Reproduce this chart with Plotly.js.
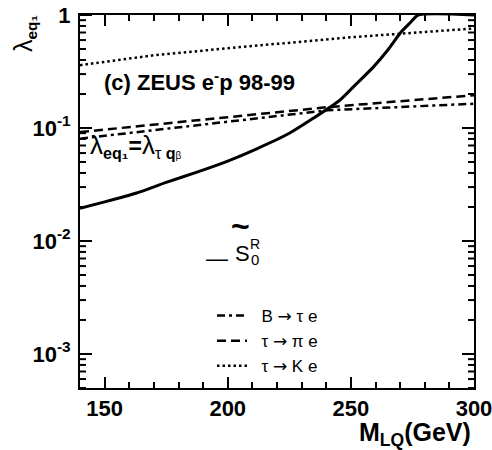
<!DOCTYPE html>
<html><head><meta charset="utf-8">
<script src="https://cdn.plot.ly/plotly-3.0.1.min.js"></script>
<style>html,body{margin:0;padding:0;background:#fff}</style>
</head><body><div id="chart" style="width:492px;height:450px"></div>
<script>
// S0~R limit (solid)
const massSolid = [140, 150, 163, 175, 187.5, 200, 212, 225, 235, 245.5, 252, 259, 265, 270, 274, 277.3, 300];
const lambdaSolid = [0.0195, 0.0222, 0.0266, 0.0330, 0.0407, 0.0510, 0.0658, 0.0898, 0.123, 0.176, 0.243, 0.344, 0.49, 0.69, 0.85, 1.0, 1.0];
// B -> tau e (dash-dot)
const massBte = [140, 193, 240.6, 300];
const lambdaBte = [0.0805, 0.110, 0.1435, 0.164];
// tau -> pi e (dashed)
const massTpe = [140, 193, 240.6, 300];
const lambdaTpe = [0.092, 0.121, 0.153, 0.195];
// tau -> K e (dotted)
const massTke = [140, 170, 205, 252, 300];
const lambdaTke = [0.36, 0.44, 0.52, 0.64, 0.76];

const xTickVals = [150, 200, 250, 300];
const xMinorVals = [160, 170, 180, 190, 210, 220, 230, 240, 260, 270, 280, 290];
const yTickVals = [1e-3, 1e-2, 1e-1, 1];
const yTickText = ['10<sup>-3</sup>', '10<sup>-2</sup>', '10<sup>-1</sup>', '1'];
const ARROW = '<span style="font-family:DejaVu Sans">\u2192</span>';
const NB = '\u00a0';
const legendNames = [NB + NB + 'B' + NB + ARROW + NB + '\u03c4' + NB + 'e',
                     NB + NB + '\u03c4' + NB + ARROW + NB + '\u03c0' + NB + 'e',
                     NB + NB + '\u03c4' + NB + ARROW + NB + 'K' + NB + 'e'];

const FONT = 'Liberation Sans, Arial, Helvetica, sans-serif';

const yMinor = [];
for (const dec of [1e-4, 1e-3, 1e-2, 1e-1]) {
  for (let k = 2; k <= 9; k++) { const v = k * dec; if (v >= 5e-4) yMinor.push(v); }
}
const xRange = [140, 300];
const yRange = [Math.log10(5e-4), 0];

const PW = 394, PH = 373;
const xPerPx = (xRange[1] - xRange[0]) / PW;
function px2x(px) { return (px - 80) / PW; }
function px2y(py) { return (388 - py) / PH; }

// y tick marks (inside, left and right) as a line trace on the same axes
const tickX = [], tickY = [];
function yTick(v, len) {
  tickX.push(xRange[0], xRange[0] + len * xPerPx, null, xRange[1], xRange[1] - len * xPerPx, null);
  tickY.push(v, v, null, v, v, null);
}
yTickVals.forEach(v => yTick(v, 12));
yMinor.forEach(v => yTick(v, 6));

const data = [
  {x: massSolid, y: lambdaSolid, mode: 'lines', line: {color: '#000', width: 3, shape: 'spline', smoothing: 0.6}, showlegend: false, hoverinfo: 'skip'},
  {x: massBte, y: lambdaBte, mode: 'lines', name: legendNames[0], line: {color: '#000', width: 2.5, dash: '8px,4px,3px,4px'}},
  {x: massTpe, y: lambdaTpe, mode: 'lines', name: legendNames[1], line: {color: '#000', width: 2.5, dash: '9px,5px'}},
  {x: massTke, y: lambdaTke, mode: 'lines', name: legendNames[2], line: {color: '#000', width: 2.5, dash: '2.5px,3px'}},
  {x: tickX, y: tickY, mode: 'lines', line: {color: '#000', width: 2}, connectgaps: false, showlegend: false, hoverinfo: 'skip'}
];

const layout = {
  width: 492, height: 450,
  margin: {l: 80, r: 18, t: 15, b: 62},
  paper_bgcolor: '#fff', plot_bgcolor: '#fff',
  font: {family: FONT, color: '#000'},
  showlegend: true,
  legend: {x: px2x(212), y: px2y(298), xanchor: 'left', yanchor: 'top', bgcolor: 'rgba(0,0,0,0)',
           font: {family: FONT, size: 17, color: '#000'}, itemwidth: 30, tracegroupgap: 0},
  xaxis: {
    range: xRange, tickvals: xTickVals, ticks: 'inside', ticklen: 11, tickwidth: 2, tickcolor: '#000',
    showgrid: false, zeroline: false,
    showline: true, linewidth: 2, linecolor: '#000', mirror: 'allticks', ticklabeloverflow: 'allow',
    tickfont: {family: FONT, size: 22, weight: 'bold', color: '#000'},
    minor: {ticks: 'inside', ticklen: 6, tickwidth: 2, tickcolor: '#000', tickvals: xMinorVals, showgrid: false}
  },
  yaxis: {
    type: 'log', range: yRange, tickvals: yTickVals, ticktext: yTickText, ticks: '',
    showgrid: false, zeroline: false,
    showline: true, linewidth: 2, linecolor: '#000', mirror: true, ticklabeloverflow: 'allow',
    tickfont: {family: FONT, size: 22, weight: 'bold', color: '#000'}, ticklabelstandoff: 3
  },
  annotations: [
    {xref: 'paper', yref: 'paper', x: px2x(102), y: px2y(81), xanchor: 'left', yanchor: 'middle', showarrow: false,
     text: '(c) ZEUS e<sup>-</sup>p 98-99', font: {family: FONT, size: 22, weight: 'bold'}},
    {xref: 'paper', yref: 'paper', x: px2x(88), y: px2y(146), xanchor: 'left', yanchor: 'middle', showarrow: false,
     text: '<span style="font-size:26px">\u03bb</span><sub><b>eq\u2081</b></sub><b>=</b><span style="font-size:26px">\u03bb</span><sub>\u03c4\u00a0<b>q</b><span style="font-size:10px">\u03b2</span></sub>',
     font: {family: FONT, size: 23}},
    {xref: 'paper', yref: 'paper', x: px2x(217), y: px2y(258), xanchor: 'center', yanchor: 'middle', showarrow: false,
     text: '\u2014', font: {family: FONT, size: 22}},
    {xref: 'paper', yref: 'paper', x: px2x(242), y: px2y(253), xanchor: 'center', yanchor: 'middle', showarrow: false,
     text: 'S', font: {family: FONT, size: 22}},
    {xref: 'paper', yref: 'paper', x: px2x(255), y: px2y(244), xanchor: 'center', yanchor: 'middle', showarrow: false,
     text: 'R', font: {family: FONT, size: 14}},
    {xref: 'paper', yref: 'paper', x: px2x(255), y: px2y(259), xanchor: 'center', yanchor: 'middle', showarrow: false,
     text: '0', font: {family: FONT, size: 15}},
    {xref: 'paper', yref: 'paper', x: px2x(240), y: px2y(226), xanchor: 'center', yanchor: 'middle', showarrow: false,
     text: '~', font: {family: FONT, size: 32, weight: 'bold'}},
    {xref: 'paper', yref: 'paper', x: px2x(24), y: px2y(33), xanchor: 'center', yanchor: 'middle', showarrow: false,
     textangle: -90, text: '<span style="font-size:25px">\u03bb</span><sub><b>eq\u2081</b></sub>', font: {family: FONT, size: 22}},
    {xref: 'paper', yref: 'paper', x: px2x(473), y: px2y(434), xanchor: 'right', yanchor: 'middle', showarrow: false,
     text: '<b>M<sub>LQ</sub>(GeV)</b>', font: {family: FONT, size: 25, weight: 'bold'}}
  ]
};

Plotly.newPlot('chart', data, layout, {displayModeBar: false, staticPlot: true});
</script></body></html>
